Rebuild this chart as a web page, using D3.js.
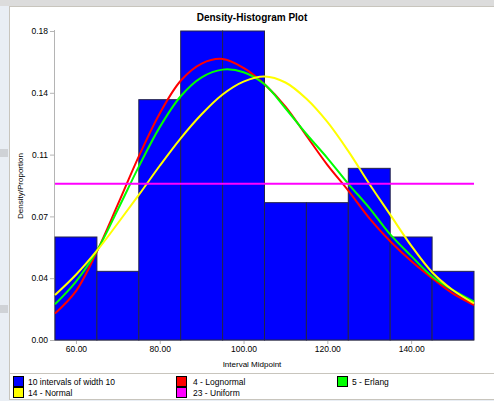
<!DOCTYPE html>
<html>
<head>
<meta charset="utf-8">
<script src="https://cdn.jsdelivr.net/npm/d3@7/dist/d3.min.js"></script>
<style>
  body { margin: 0; background: #ffffff; }
  svg text { font-family: "Liberation Sans", Arial, sans-serif; fill: #000; }
</style>
</head>
<body>
<svg id="chart"></svg>
<script>
// histogram: 10 intervals of width 10
var binStarts = [55, 65, 75, 85, 95, 105, 115, 125, 135, 145];
var binWidth = 10;
var proportions = [0.06, 0.04, 0.14, 0.18, 0.18, 0.08, 0.08, 0.10, 0.06, 0.04];

// fitted curves
var curveX = [55, 60, 65, 70, 75, 80, 85, 90, 95, 100, 105, 110, 115, 120, 125, 130, 135, 140, 145, 150, 155];
var lognormal = [0.0155, 0.0285, 0.0515, 0.079, 0.107, 0.132, 0.151, 0.161, 0.1637, 0.1585, 0.149, 0.136, 0.119, 0.102, 0.087, 0.071, 0.0575, 0.046, 0.036, 0.027, 0.0204];
var erlang = [0.0208, 0.034, 0.052, 0.076, 0.101, 0.124, 0.142, 0.153, 0.1575, 0.156, 0.149, 0.135, 0.120, 0.106, 0.091, 0.077, 0.0615, 0.049, 0.037, 0.029, 0.0223];
var normal = [0.0262, 0.038, 0.052, 0.068, 0.0845, 0.1015, 0.1175, 0.1315, 0.143, 0.1505, 0.1535, 0.150, 0.1405, 0.127, 0.110, 0.091, 0.073, 0.055, 0.0395, 0.029, 0.0214];
var uniformLevel = 0.091;

var yTickValues = [0, 0.036, 0.072, 0.108, 0.144, 0.18];
var yTickLabels = ["0.00", "0.04", "0.07", "0.11", "0.14", "0.18"];
var xTickValues = [60, 80, 100, 120, 140];

var legendLabels = ["10 intervals of width 10", "4 - Lognormal", "5 - Erlang", "14 - Normal", "23 - Uniform"];
var legendColors = ["#0000ff", "#ff0000", "#00ff00", "#ffff00", "#ff00ff"];

var width = 494, height = 401;
var svg = d3.select("#chart")
  .attr("width", width)
  .attr("height", height);

// window chrome round the panel
svg.append("rect").attr("x", 0).attr("y", 0).attr("width", width).attr("height", height).style("fill", "#e9eef4");
svg.append("rect").attr("x", 0).attr("y", 0).attr("width", width).attr("height", 6).style("fill", "#dcdcdc");
svg.append("rect").attr("x", 0).attr("y", 149).attr("width", 8).attr("height", 8).style("fill", "#cfd2d6");
svg.append("rect").attr("x", 0).attr("y", 305).attr("width", 8).attr("height", 8).style("fill", "#cfd2d6");
svg.append("rect")
  .attr("x", 9.5).attr("y", 6.5)
  .attr("width", width - 9).attr("height", 393)
  .style("fill", "#ffffff")
  .style("stroke", "#c8c5bd");

// title
svg.append("text")
  .attr("x", 252)
  .attr("y", 21)
  .attr("text-anchor", "middle")
  .style("font-size", "10px")
  .style("font-weight", "bold")
  .text("Density-Histogram Plot");

var x = d3.scaleLinear().domain([55, 155]).range([55, 474]);
var y = d3.scaleLinear().domain([0, 0.18]).range([340, 31]);

// axes
var yAxis = svg.append("g")
  .attr("transform", "translate(54,0)")
  .call(d3.axisLeft(y)
    .tickValues(yTickValues)
    .tickSize(4)
    .tickPadding(2)
    .tickFormat(function(d, i) { return yTickLabels[i]; }));
yAxis.selectAll("text").style("font-size", "8.5px").style("font-family", "Liberation Sans, Arial, sans-serif");

var xAxis = svg.append("g")
  .attr("transform", "translate(0,340)")
  .call(d3.axisBottom(x)
    .tickValues(xTickValues)
    .tickSize(4)
    .tickPadding(2)
    .tickFormat(d3.format(".2f")));
xAxis.selectAll("text").style("font-size", "8.5px").style("font-family", "Liberation Sans, Arial, sans-serif");

svg.selectAll(".domain").style("stroke", "#b4b4b4").attr("d", null);
yAxis.select(".domain").attr("d", "M0.5,30V340.5");
xAxis.select(".domain").attr("d", "M54,0.5H474");
svg.selectAll(".tick line").style("stroke", "#b4b4b4");

svg.append("text")
  .attr("transform", "translate(23,186) rotate(-90)")
  .attr("text-anchor", "middle")
  .style("font-size", "8px")
  .text("Density/Proportion");

svg.append("text")
  .attr("x", 252)
  .attr("y", 367)
  .attr("text-anchor", "middle")
  .style("font-size", "8px")
  .text("Interval Midpoint");

// histogram bars
svg.append("g").selectAll("rect")
  .data(proportions)
  .enter()
  .append("rect")
  .attr("x", function(d, i) { return x(binStarts[i]); })
  .attr("y", function(d) { return y(d); })
  .attr("width", function(d, i) { return x(binStarts[i] + binWidth) - x(binStarts[i]); })
  .attr("height", function(d) { return y(0) - y(d); })
  .style("fill", "#0000ff")
  .style("stroke", "#24244a")
  .style("stroke-width", 1);

// fitted densities
var line = d3.line()
  .x(function(d, i) { return x(curveX[i]); })
  .y(function(d) { return y(d); })
  .curve(d3.curveCatmullRom.alpha(0.5));

var series = [
  { values: lognormal, color: "#ff0000" },
  { values: erlang, color: "#00ff00" },
  { values: normal, color: "#ffff00" }
];
svg.append("g").selectAll("path")
  .data(series)
  .enter()
  .append("path")
  .attr("d", function(s) { return line(s.values); })
  .style("fill", "none")
  .style("stroke", function(s) { return s.color; })
  .style("stroke-width", 2);

svg.append("line")
  .attr("x1", x(55)).attr("x2", x(155))
  .attr("y1", y(uniformLevel)).attr("y2", y(uniformLevel))
  .style("stroke", "#ff00ff")
  .style("stroke-width", 2);

// legend box
svg.append("line")
  .attr("x1", 9).attr("x2", width)
  .attr("y1", 373.5).attr("y2", 373.5)
  .style("stroke", "#c8c5bd");

var legX = [13, 176, 337, 13, 176];
var legTextX = [28, 193, 352, 28, 193];
var legRow = [0, 0, 0, 1, 1];
var legend = svg.selectAll("g.legend")
  .data(legendLabels)
  .enter().append("g")
  .attr("class", "legend");
legend.append("rect")
  .attr("x", function(d, i) { return legX[i] + 0.5; })
  .attr("y", function(d, i) { return 376.5 + legRow[i] * 11; })
  .attr("width", 10)
  .attr("height", 10)
  .style("fill", function(d, i) { return legendColors[i]; })
  .style("stroke", "#000");
legend.append("text")
  .attr("x", function(d, i) { return legTextX[i]; })
  .attr("y", function(d, i) { return 385 + legRow[i] * 11; })
  .style("font-size", "8.5px")
  .text(function(d) { return d; });
</script>
</body>
</html>
